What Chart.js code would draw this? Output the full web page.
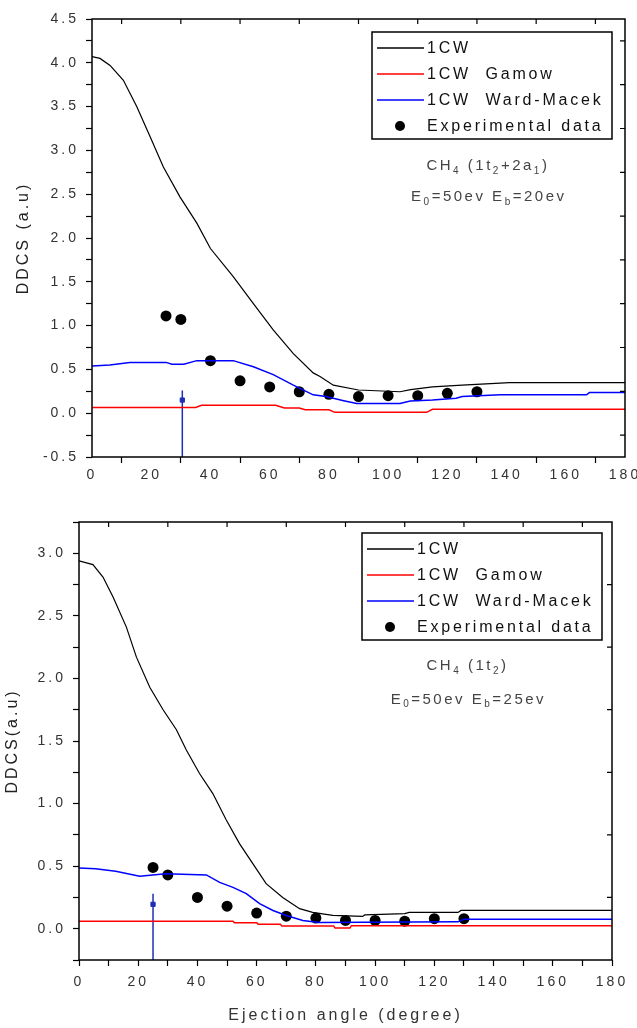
<!DOCTYPE html>
<html>
<head>
<meta charset="utf-8">
<script src="https://cdn.jsdelivr.net/npm/chart.js@4/dist/chart.umd.min.js"></script>
<style>
  html, body { margin: 0; padding: 0; background: #fff; }
  .wrap { position: relative; width: 637px; }
</style>
</head>
<body>
<div class="wrap" style="height:500px"><canvas id="chartTop"></canvas></div>
<div class="wrap" style="height:528px"><canvas id="chartBottom"></canvas></div>
<script>
// Gráfico superior: CH4 (1t2+2a1), E0=50 eV, Eb=20 eV
const topCwX = [0, 2.7, 6.1, 10.6, 15.1, 19.6, 24.1, 29.7, 35.4, 40, 47.7, 54.5, 61.2, 68, 74.7, 77, 81.5, 90, 104, 107.6, 115, 125, 141, 180];
const topCwY = [4.07, 4.05, 3.97, 3.80, 3.50, 3.16, 2.81, 2.47, 2.17, 1.88, 1.56, 1.25, 0.95, 0.68, 0.46, 0.42, 0.32, 0.265, 0.245, 0.27, 0.30, 0.32, 0.35, 0.35];
const topGamowX = [0, 35, 37, 62, 65, 70, 72, 80, 82, 113, 115, 180];
const topGamowY = [0.065, 0.065, 0.09, 0.09, 0.06, 0.06, 0.04, 0.04, 0.01, 0.01, 0.045, 0.045];
const topWardX = [0, 6, 12.8, 25, 27, 31, 35.4, 47.7, 54.5, 61.2, 68, 74.7, 79, 85, 89.4, 104, 107.5, 115, 123, 125, 138, 167, 168, 180];
const topWardY = [0.54, 0.55, 0.58, 0.58, 0.56, 0.56, 0.60, 0.60, 0.53, 0.44, 0.32, 0.21, 0.19, 0.143, 0.11, 0.11, 0.14, 0.15, 0.17, 0.19, 0.21, 0.21, 0.235, 0.235];
const topExpX = [25, 30, 40, 50, 60, 70, 80, 90, 100, 110, 120, 130];
const topExpY = [1.11, 1.07, 0.60, 0.37, 0.30, 0.245, 0.215, 0.19, 0.20, 0.20, 0.227, 0.245];
const topArrowX = [30.5, 30.5];
const topArrowY = [-0.5, 0.26];
const topArrowMark = [0.15];

// Gráfico inferior: CH4 (1t2), E0=50 eV, Eb=25 eV
const botCwX = [0, 4.7, 8.1, 11.5, 16, 19.4, 23.9, 28.4, 32.9, 36.2, 40.7, 45.2, 49.7, 54.2, 58.7, 63.2, 68.8, 74.5, 78.9, 85.7, 95.8, 96.5, 110, 111.5, 128, 129, 180];
const botCwY = [2.94, 2.91, 2.81, 2.65, 2.41, 2.17, 1.93, 1.75, 1.59, 1.43, 1.24, 1.08, 0.87, 0.68, 0.52, 0.36, 0.25, 0.16, 0.13, 0.106, 0.098, 0.11, 0.12, 0.13, 0.13, 0.146, 0.146];
const botGamowX = [0, 52, 52.5, 60, 60.5, 68, 68.5, 86, 86.5, 91.5, 92, 180];
const botGamowY = [0.06, 0.06, 0.048, 0.048, 0.035, 0.035, 0.022, 0.022, 0.005, 0.005, 0.024, 0.024];
const botWardX = [0, 5.6, 12.4, 20.5, 29.3, 43, 47.5, 52, 56.5, 61, 65.5, 70, 75.6, 81, 128, 130, 180];
const botWardY = [0.485, 0.48, 0.46, 0.42, 0.44, 0.43, 0.37, 0.33, 0.28, 0.20, 0.146, 0.106, 0.066, 0.05, 0.055, 0.075, 0.075];
const botExpX = [25, 30, 40, 50, 60, 70, 80, 90, 100, 110, 120, 130];
const botExpY = [0.49, 0.43, 0.25, 0.18, 0.125, 0.10, 0.085, 0.066, 0.066, 0.06, 0.08, 0.08];
const botArrowX = [25, 25];
const botArrowY = [-0.25, 0.28];
const botArrowMark = [0.195];

// Ticks
const xTickStep = 10;
const xMirrorTicks = [10, 30, 50, 70, 90, 110, 130, 150, 170];
const topYMirrorTicks = [4.25, 3.75, 3.25, 2.75, 2.25, 1.75, 1.25, 0.75, 0.25, -0.25];
const botYMirrorTicks = [2.75, 2.25, 1.75, 1.25, 0.75, 0.25];

const seriesLabels = ['1CW', '1CW  Gamow', '1CW  Ward-Macek', 'Experimental data'];

const FONT = '"Liberation Sans", Arial, sans-serif';
const arrowColor = '#1f2fb5';

function pairs(xs, ys) {
    return xs.map((x, i) => ({ x: x, y: ys[i] }));
}

// espaçamento entre letras (a figura original é esticada na horizontal)
const spacingPlugin = {
    id: 'spacing',
    beforeLayout(chart) { chart.ctx.letterSpacing = '3px'; },
    beforeDraw(chart) { chart.ctx.letterSpacing = '3px'; }
};

// moldura e ticks espelhados (topo e direita, para dentro)
const framePlugin = {
    id: 'frame',
    afterDatasetsDraw(chart, args, opts) {
        const { ctx, chartArea: a } = chart;
        const x = chart.scales.x, y = chart.scales.y;
        ctx.save();
        ctx.strokeStyle = '#000';
        ctx.lineWidth = 1.5;
        ctx.strokeRect(a.left, a.top, a.right - a.left, a.bottom - a.top);
        ctx.lineWidth = 1.2;
        ctx.beginPath();
        opts.topTicks.forEach(v => {
            const px = x.getPixelForValue(v);
            ctx.moveTo(px, a.top); ctx.lineTo(px, a.top + 5);
        });
        opts.rightTicks.forEach(v => {
            const py = y.getPixelForValue(v);
            ctx.moveTo(a.right, py); ctx.lineTo(a.right - 5, py);
        });
        ctx.stroke();
        ctx.restore();
    }
};

// legenda com caixa, no canto superior direito
const boxLegendPlugin = {
    id: 'boxLegend',
    afterDraw(chart, args, opts) {
        const { ctx, chartArea: a } = chart;
        const left = a.right - opts.right - opts.width;
        const top = a.top + opts.top;
        ctx.save();
        ctx.letterSpacing = '2.8px';
        ctx.strokeStyle = '#000';
        ctx.lineWidth = 1.5;
        ctx.strokeRect(left, top, opts.width, opts.height);
        ctx.font = '16px ' + FONT;
        ctx.textBaseline = 'middle';
        ctx.textAlign = 'left';
        chart.data.datasets.filter(d => d.label).forEach((d, i) => {
            const cy = top + 16 + i * 26;
            if (d.showLine === false) {
                ctx.fillStyle = d.backgroundColor;
                ctx.beginPath();
                ctx.arc(left + 28, cy, 5, 0, Math.PI * 2);
                ctx.fill();
            } else {
                ctx.strokeStyle = d.borderColor;
                ctx.lineWidth = 1.5;
                ctx.beginPath();
                ctx.moveTo(left + 5, cy); ctx.lineTo(left + 52, cy);
                ctx.stroke();
            }
            ctx.fillStyle = '#111';
            ctx.fillText(d.label, left + 55, cy + 1);
        });
        ctx.restore();
    }
};

// texto com subscritos: partes [texto, subscrito?]
function drawRich(ctx, parts, cx, cy) {
    const big = '15px ' + FONT, small = '10px ' + FONT;
    let w = 0;
    parts.forEach(p => { ctx.font = p[1] ? small : big; w += ctx.measureText(p[0]).width; });
    let x = cx - w / 2;
    parts.forEach(p => {
        ctx.font = p[1] ? small : big;
        ctx.fillText(p[0], x, p[1] ? cy + 5 : cy);
        x += ctx.measureText(p[0]).width;
    });
}

const notePlugin = {
    id: 'note',
    afterDraw(chart, args, opts) {
        const { ctx } = chart;
        const x = chart.scales.x, y = chart.scales.y;
        ctx.save();
        ctx.letterSpacing = '2.5px';
        ctx.fillStyle = '#444';
        ctx.textBaseline = 'middle';
        ctx.textAlign = 'left';
        opts.lines.forEach(l => drawRich(ctx, l.parts, x.getPixelForValue(l.x), y.getPixelForValue(l.y)));
        ctx.restore();
    }
};

function isHalf(v) {
    return Math.abs(v * 2 - Math.round(v * 2)) < 1e-9;
}

function buildChart(id, cfg) {
    const ctx = document.getElementById(id);
    if (!ctx) return;

    new Chart(ctx, {
        type: 'line',
        data: {
            datasets: [
                { label: seriesLabels[0], data: pairs(cfg.cw[0], cfg.cw[1]), borderColor: '#000', borderWidth: 1.2, pointRadius: 0 },
                { label: seriesLabels[1], data: pairs(cfg.gamow[0], cfg.gamow[1]), borderColor: '#ff0000', borderWidth: 1.5, pointRadius: 0 },
                { label: seriesLabels[2], data: pairs(cfg.ward[0], cfg.ward[1]), borderColor: '#0000ff', borderWidth: 1.5, pointRadius: 0 },
                { label: seriesLabels[3], data: pairs(cfg.exp[0], cfg.exp[1]), showLine: false, backgroundColor: '#000', borderColor: '#000', pointRadius: 5.5, pointBorderWidth: 0 },
                // seta (limiar)
                { data: pairs(cfg.arrow[0], cfg.arrow[1]), borderColor: arrowColor, borderWidth: 1.5, pointRadius: 0 },
                { data: pairs([cfg.arrow[0][0]], cfg.arrowMark), showLine: false, pointStyle: 'rect', pointRadius: 3, backgroundColor: arrowColor, borderColor: arrowColor }
            ]
        },
        options: {
            responsive: true,
            maintainAspectRatio: false,
            animation: false,
            layout: { padding: cfg.padding },
            elements: { line: { tension: 0 } },
            scales: {
                x: {
                    type: 'linear',
                    min: 0,
                    max: 180,
                    border: { display: false },
                    grid: {
                        drawOnChartArea: false,
                        drawTicks: true,
                        tickLength: 6,
                        tickWidth: 1.2,
                        tickColor: c => cfg.oddXTicks && c.tick && c.tick.value % 20 === 0 ? 'rgba(0,0,0,0)' : '#000'
                    },
                    ticks: {
                        stepSize: xTickStep,
                        autoSkip: false,
                        maxRotation: 0,
                        padding: cfg.xPad,
                        color: '#333',
                        font: { family: FONT, size: 14 },
                        callback: v => v % 20 === 0 ? String(v) : ''
                    },
                    title: {
                        display: !!cfg.xTitle,
                        text: cfg.xTitle || '',
                        color: '#333',
                        font: { family: FONT, size: 16 },
                        padding: { top: 0, bottom: 3 }
                    },
                    afterFit: s => { s.height = cfg.xHeight; s.paddingLeft = 0; s.paddingRight = 0; }
                },
                y: {
                    min: cfg.yMin,
                    max: cfg.yMax,
                    border: { display: false },
                    grid: {
                        drawOnChartArea: false,
                        drawTicks: true,
                        tickLength: 6,
                        tickWidth: 1.2,
                        tickColor: '#000'
                    },
                    ticks: {
                        stepSize: 0.25,
                        autoSkip: false,
                        padding: 7,
                        color: '#333',
                        font: { family: FONT, size: 14 },
                        callback: v => isHalf(v) ? v.toFixed(1) : ''
                    },
                    title: {
                        display: true,
                        text: cfg.yTitle,
                        color: '#222',
                        font: { family: FONT, size: 16 },
                        padding: { top: cfg.yTitlePad, bottom: 0 }
                    },
                    afterFit: s => { s.width = cfg.yWidth; s.paddingTop = 0; s.paddingBottom = 0; }
                }
            },
            plugins: {
                legend: { display: false },
                tooltip: { enabled: false },
                frame: { topTicks: xMirrorTicks, rightTicks: cfg.rightTicks },
                boxLegend: cfg.legendBox,
                note: { lines: cfg.notes }
            }
        },
        plugins: [spacingPlugin, framePlugin, boxLegendPlugin, notePlugin]
    });
}

buildChart('chartTop', {
    cw: [topCwX, topCwY], gamow: [topGamowX, topGamowY], ward: [topWardX, topWardY], exp: [topExpX, topExpY],
    arrow: [topArrowX, topArrowY], arrowMark: topArrowMark,
    yMin: -0.5, yMax: 4.5,
    padding: { top: 19, right: 12, left: 0, bottom: 0 },
    yWidth: 92, xHeight: 43, xPad: 4, oddXTicks: true,
    yTitle: 'DDCS (a.u)', yTitlePad: 14,
    rightTicks: topYMirrorTicks,
    legendBox: { right: 13, top: 13, width: 240, height: 107 },
    notes: [
        { x: 133.7, y: 2.82, parts: [['CH', 0], ['4', 1], [' (1t', 0], ['2', 1], ['+2a', 0], ['1', 1], [')', 0]] },
        { x: 134, y: 2.47, parts: [['E', 0], ['0', 1], ['=50ev E', 0], ['b', 1], ['=20ev', 0]] }
    ]
});

buildChart('chartBottom', {
    cw: [botCwX, botCwY], gamow: [botGamowX, botGamowY], ward: [botWardX, botWardY], exp: [botExpX, botExpY],
    arrow: [botArrowX, botArrowY], arrowMark: botArrowMark,
    yMin: -0.25, yMax: 3.25,
    padding: { top: 22, right: 25, left: 0, bottom: 0 },
    yWidth: 79, xHeight: 68, xPad: 8, oddXTicks: false,
    xTitle: 'Ejection angle (degree)',
    yTitle: 'DDCS(a.u)', yTitlePad: 3,
    rightTicks: botYMirrorTicks,
    legendBox: { right: 10, top: 11, width: 240, height: 107 },
    notes: [
        { x: 131.2, y: 2.10, parts: [['CH', 0], ['4', 1], [' (1t', 0], ['2', 1], [')', 0]] },
        { x: 131.5, y: 1.83, parts: [['E', 0], ['0', 1], ['=50ev E', 0], ['b', 1], ['=25ev', 0]] }
    ]
});
</script>
</body>
</html>
